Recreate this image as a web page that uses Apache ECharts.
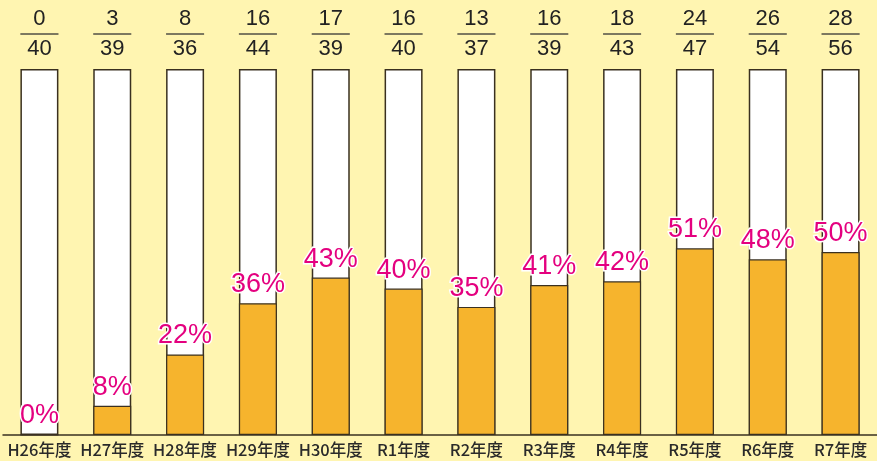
<!DOCTYPE html>
<html>
<head>
<meta charset="utf-8">
<script src="https://cdn.jsdelivr.net/npm/echarts@6/dist/echarts.min.js"></script>
<style>
html, body { margin: 0; padding: 0; background: #FFF5B1; }
#main { width: 877px; height: 461px; }
</style>
</head>
<body>
<div id="main"></div>
<script>
//年度
var years = ['H26年度', 'H27年度', 'H28年度', 'H29年度', 'H30年度', 'R1年度', 'R2年度', 'R3年度', 'R4年度', 'R5年度', 'R6年度', 'R7年度'];
//分子
var numerators = [0, 3, 8, 16, 17, 16, 13, 16, 18, 24, 26, 28];
//分母
var denominators = [40, 39, 36, 44, 39, 40, 37, 39, 43, 47, 54, 56];
//割合(%)
var percents = [0, 8, 22, 36, 43, 40, 35, 41, 42, 51, 48, 50];
//背景の白い棒(100%)
var fullBars = [100, 100, 100, 100, 100, 100, 100, 100, 100, 100, 100, 100];

var chart = echarts.init(document.getElementById('main'));

var option = {
	backgroundColor: '#FFF5B1',
	animation: false,
	grid: {
		left: 3,
		top: 69,
		width: 884,
		bottom: 26
	},
	xAxis: [{
		type: 'category',
		data: years,
		axisLine: {
			lineStyle: {
				color: '#3a3020',
				width: 1.5
			}
		},
		axisTick: {
			show: false
		},
		axisLabel: {
			interval: 0,
			margin: 6,
			fontFamily: 'Noto Sans CJK JP',
			fontWeight: 500,
			fontSize: 16.5,
			color: '#2a2a2a'
		}
	}],
	yAxis: [{
		type: 'value',
		min: 0,
		max: 100,
		show: false
	}],
	series: [{
		name: 'full',
		type: 'bar',
		data: fullBars,
		barWidth: 38,
		barGap: '-100%',
		z: 1,
		itemStyle: {
			color: '#FFFFFF',
			borderColor: '#3a3020',
			borderWidth: 1.5
		},
		label: {
			show: true,
			position: 'top',
			distance: 7,
			formatter: function(p) {
				return '{n|' + numerators[p.dataIndex] + '}\n{hr|}\n{d|' + denominators[p.dataIndex] + '}';
			},
			rich: {
				n: {
					fontFamily: 'Liberation Sans',
					fontSize: 22,
					lineHeight: 26,
					color: '#222222',
					align: 'center'
				},
				hr: {
					width: 38,
					height: 0,
					lineHeight: 4,
					borderWidth: 0.8,
					borderColor: '#333333',
					align: 'center'
				},
				d: {
					fontFamily: 'Liberation Sans',
					fontSize: 22,
					lineHeight: 26,
					color: '#222222',
					align: 'center'
				}
			}
		}
	}, {
		name: 'rate',
		type: 'bar',
		data: percents,
		barWidth: 38,
		z: 2,
		itemStyle: {
			color: '#F6B42D',
			borderColor: '#3a3020',
			borderWidth: 1.2
		},
		label: {
			show: true,
			position: 'top',
			distance: 5,
			formatter: '{c}%',
			fontFamily: 'Liberation Sans',
			fontSize: 27,
			color: '#E4007F',
			textBorderColor: '#FFFFFF',
			textBorderWidth: 3
		}
	}]
};

chart.setOption(option);
</script>
</body>
</html>
